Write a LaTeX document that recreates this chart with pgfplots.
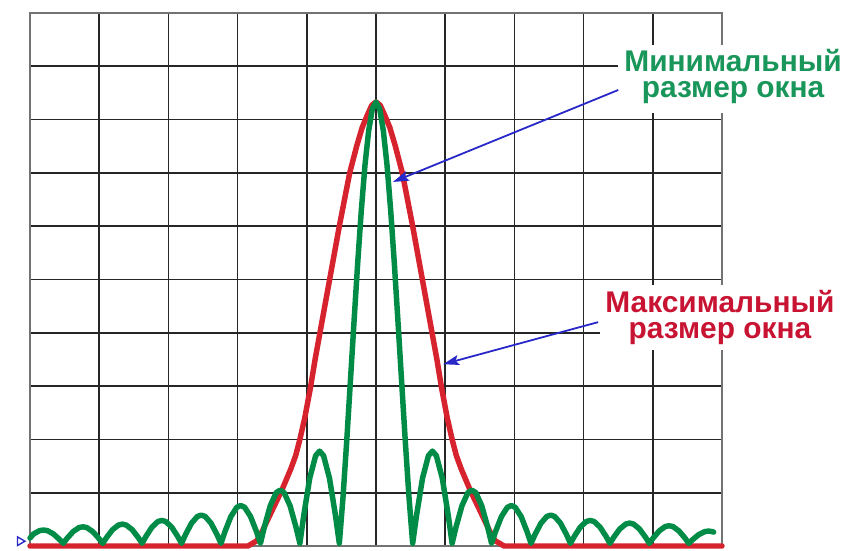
\documentclass[border=0pt]{standalone}
\usepackage{pgfplots}
\pgfplotsset{compat=1.18}
\usepackage{fontspec}
\setmainfont{Liberation Sans}
\usetikzlibrary{arrows.meta}
\definecolor{cgreen}{RGB}{0,140,70}
\definecolor{cred}{RGB}{215,35,45}
\definecolor{tgreen}{RGB}{25,150,90}
\definecolor{tred}{RGB}{200,20,50}
\definecolor{cblue}{RGB}{40,40,200}
\begin{document}
\begin{tikzpicture}
\fill[white] (0,0) rectangle (847bp,551bp);
\useasboundingbox (0,0) rectangle (847bp,551bp);
\begin{axis}[at={(30bp,5bp)}, anchor=south west,
  width=692bp, height=533bp, scale only axis,
  xmin=0, xmax=10, ymin=0, ymax=10,
  xtick={0,...,10}, ytick={0,...,10},
  xticklabels={}, yticklabels={},
  major tick length=0pt,
  grid=major,
  major grid style={black!85, line width=1.7pt},
  axis line style={black!55, line width=2.5pt},
  clip=false]
% red: maximal window
\addplot[cred, line width=5.5pt, line join=round, line cap=round] coordinates {
(0,0) (3.15,0) (3.28,0.1) (3.35,0.26) (3.5,0.67) (3.64,1.05) (3.77,1.45) (3.84,1.7) (3.9,2.0)
(3.97,2.4) (4.05,2.95) (4.12,3.5) (4.19,4.0) (4.33,5.0) (4.47,6.0) (4.62,7.0) (4.72,7.5) (4.8,7.85)
(4.88,8.1) (4.94,8.27) (5,8.33) (5.06,8.27) (5.12,8.1) (5.2,7.85) (5.28,7.5)
(5.38,7.0) (5.53,6.0) (5.67,5.0) (5.81,4.0) (5.88,3.5) (5.95,2.95) (6.03,2.4) (6.1,2.0) (6.16,1.7) (6.23,1.45)
(6.36,1.05) (6.5,0.67) (6.65,0.26) (6.72,0.1) (6.85,0) (10,0)
};
% green: minimal window
\addplot[cgreen, line width=5.5pt, line join=round, line cap=round] coordinates {
(0,0.15) (0.0525,0.227) (0.138,0.288) (0.195,0.30) (0.252,0.288) (0.3375,0.227) (0.423,0.127) (0.48,0.05)
(0.537,0.146) (0.6225,0.269) (0.708,0.345) (0.765,0.36) (0.822,0.345) (0.9075,0.269) (0.993,0.146) (1.05,0.05)
(1.107,0.161) (1.1925,0.305) (1.278,0.392) (1.335,0.41) (1.392,0.392) (1.4775,0.305) (1.563,0.161) (1.62,0.05)
(1.677,0.183) (1.7625,0.354) (1.848,0.459) (1.905,0.48) (1.962,0.459) (2.0475,0.354) (2.133,0.183) (2.19,0.05)
(2.247,0.214) (2.3325,0.425) (2.418,0.554) (2.475,0.58) (2.532,0.554) (2.6175,0.425) (2.703,0.214) (2.76,0.05)
(2.817,0.269) (2.9025,0.552) (2.988,0.725) (3.045,0.76) (3.102,0.725) (3.1875,0.552) (3.273,0.269) (3.33,0.05)
(3.387,0.359) (3.4725,0.757) (3.558,1.001) (3.615,1.05) (3.672,1.001) (3.7575,0.757) (3.843,0.359) (3.9,0.05)
(3.957,0.585) (4.0425,1.273) (4.128,1.695) (4.185,1.78) (4.242,1.695) (4.3275,1.273) (4.413,0.585) (4.47,0.05)
(4.523,0.91) (4.576,1.95) (4.629,3.07) (4.682,4.2) (4.735,5.3) (4.788,6.3) (4.841,7.15) (4.894,7.79) (4.947,8.2)
(5,8.33)
(5.053,8.2) (5.106,7.79) (5.159,7.15) (5.212,6.3) (5.265,5.3) (5.318,4.2) (5.371,3.07) (5.424,1.95) (5.477,0.91) (5.53,0.05)
(5.587,0.585) (5.6725,1.273) (5.758,1.695) (5.815,1.78) (5.872,1.695) (5.9575,1.273) (6.043,0.585) (6.1,0.05)
(6.157,0.359) (6.2425,0.757) (6.328,1.001) (6.385,1.05) (6.442,1.001) (6.5275,0.757) (6.613,0.359) (6.67,0.05)
(6.727,0.269) (6.8125,0.552) (6.898,0.725) (6.955,0.76) (7.012,0.725) (7.0975,0.552) (7.183,0.269) (7.24,0.05)
(7.297,0.214) (7.3825,0.425) (7.468,0.554) (7.525,0.58) (7.582,0.554) (7.6675,0.425) (7.753,0.214) (7.81,0.05)
(7.867,0.183) (7.9525,0.354) (8.038,0.459) (8.095,0.48) (8.152,0.459) (8.2375,0.354) (8.323,0.183) (8.38,0.05)
(8.437,0.167) (8.5225,0.319) (8.608,0.411) (8.665,0.43) (8.722,0.411) (8.8075,0.319) (8.893,0.167) (8.95,0.05)
(9.007,0.152) (9.0925,0.283) (9.178,0.364) (9.235,0.38) (9.292,0.364) (9.3775,0.283) (9.463,0.152) (9.52,0.05)
(9.577,0.121) (9.6625,0.213) (9.748,0.269) (9.805,0.28) (9.862,0.269) (9.88,0.26)
};
% small marker at left
\addplot[only marks, mark=triangle, mark size=5pt, mark options={rotate=-90, draw=cblue, line width=1.4pt}] coordinates {(-0.145,0.09)};
% white boxes behind labels
\fill[white] (axis cs:8.49,8.12) rectangle (axis cs:11.9,9.4);
\fill[white] (axis cs:8.24,3.68) rectangle (axis cs:11.85,4.9);
% labels (anchor=base is the baseline of the last line)
\node[anchor=base, align=center, inner sep=0pt, text=tgreen, font=\fontsize{30}{26}\selectfont\bfseries] at (axis cs:10.16,8.41) {Минимальный\\размер окна};
\node[anchor=base, align=center, inner sep=0pt, text=tred, font=\fontsize{30}{26}\selectfont\bfseries] at (axis cs:9.97,3.90) {Максимальный\\размер окна};
% arrows
\draw[cblue, line width=1.8pt, -{Stealth[length=16pt,width=10pt,inset=3pt]}] (axis cs:8.50,8.555) -- (axis cs:5.245,6.83);
\draw[cblue, line width=1.8pt, -{Stealth[length=16pt,width=10pt,inset=3pt]}] (axis cs:8.21,4.20) -- (axis cs:5.97,3.41);
\end{axis}
\end{tikzpicture}
\end{document}
